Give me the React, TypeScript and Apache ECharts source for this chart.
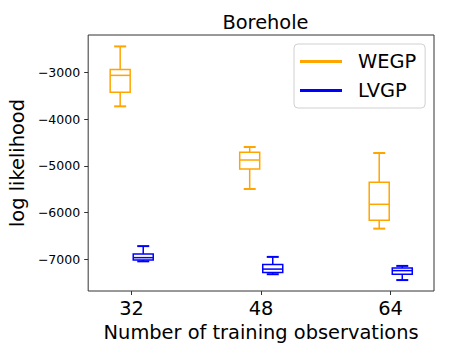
import React, { useEffect, useRef } from "react";
import * as echarts from "echarts";

const categories = ["32", "48", "64"];
const yTicks = [-7000, -6000, -5000, -4000, -3000];
// [low, q1, median, q3, high]
const wegpStats = [
  [-3727, -3428, -3064, -2936, -2444],
  [-5496, -5068, -4876, -4711, -4598],
  [-6345, -6166, -5824, -5353, -4726],
];
const lvgpStats = [
  [-7045, -7015, -6966, -6887, -6719],
  [-7321, -7282, -7211, -7115, -6950],
  [-7446, -7320, -7244, -7186, -7143],
];

const FONT = "'DejaVu Sans', sans-serif";
const ORANGE = "#FFA500";
const BLUE = "#0000FF";

function boxSeries(name: string, color: string, stats: number[][], offset: number) {
  return {
    name,
    type: "custom",
    itemStyle: { color },
    data: stats.map((s, i) => [i + 1 + offset, ...s]),
    renderItem: (params: any, api: any) => {
      const x = api.value(0);
      const low = api.coord([x, api.value(1)]);
      const q1 = api.coord([x, api.value(2)]);
      const med = api.coord([x, api.value(3)]);
      const q3 = api.coord([x, api.value(4)]);
      const high = api.coord([x, api.value(5)]);
      const cx = low[0];
      const hw = 10;
      const cw = 6;
      const st = { stroke: color, lineWidth: 1.5, fill: "none" };
      return {
        type: "group",
        children: [
          { type: "rect", shape: { x: cx - hw, y: q3[1], width: hw * 2, height: q1[1] - q3[1] }, style: st },
          { type: "line", shape: { x1: cx - hw, y1: med[1], x2: cx + hw, y2: med[1] }, style: st },
          { type: "line", shape: { x1: cx, y1: q3[1], x2: cx, y2: high[1] }, style: st },
          { type: "line", shape: { x1: cx, y1: q1[1], x2: cx, y2: low[1] }, style: st },
          { type: "line", shape: { x1: cx - cw, y1: high[1], x2: cx + cw, y2: high[1] }, style: { ...st, lineWidth: 2 } },
          { type: "line", shape: { x1: cx - cw, y1: low[1], x2: cx + cw, y2: low[1] }, style: { ...st, lineWidth: 2 } },
        ],
      };
    },
  };
}

export default function App() {
  const ref = useRef<HTMLDivElement>(null);
  useEffect(() => {
    const chart = echarts.init(ref.current!, null, { renderer: "svg" });
    chart.setOption({
      animation: false,
      backgroundColor: "#fff",
      textStyle: { fontFamily: FONT },
      title: {
        text: "Borehole",
        left: 260.5,
        top: 8,
        textAlign: "center",
        textStyle: { fontFamily: FONT, fontSize: 19.4, fontWeight: "normal", color: "#000" },
      },
      legend: {
        orient: "vertical",
        left: 294,
        top: 44,
        padding: [6, 9, 6, 6],
        itemGap: 6,
        itemWidth: 42,
        itemHeight: 3,
        icon: "rect",
        borderColor: "#d0d0d0",
        borderWidth: 1,
        borderRadius: 4,
        backgroundColor: "rgba(255,255,255,0.8)",
        textStyle: { fontFamily: FONT, fontSize: 19.4, color: "#000", lineHeight: 23, padding: [0, 0, 0, 11] },
        data: ["WEGP", "LVGP"],
      },
      grid: {
        left: 87,
        right: 15,
        top: 35,
        bottom: 68,
        show: true,
        borderColor: "#333",
        borderWidth: 1,
        backgroundColor: "transparent",
      },
      xAxis: {
        type: "value",
        min: 0.665,
        max: 3.335,
        name: "Number of training observations",
        nameLocation: "middle",
        nameGap: 31,
        nameTextStyle: { fontFamily: FONT, fontSize: 19.4, color: "#000" },
        axisLine: { show: false },
        splitLine: { show: false },
        axisTick: { show: true, length: 4, lineStyle: { color: "#333" }, customValues: [1, 2, 3] },
        axisLabel: {
          customValues: [1, 2, 3],
          formatter: (v: number) => categories[Math.round(v) - 1] ?? "",
          fontFamily: FONT,
          fontSize: 19.4,
          color: "#000",
          margin: 8,
        },
      },
      yAxis: {
        type: "value",
        min: -7680,
        max: -2200,
        name: "log likelihood",
        nameLocation: "middle",
        nameGap: 58,
        nameTextStyle: { fontFamily: FONT, fontSize: 19.4, color: "#000" },
        axisLine: { show: false },
        splitLine: { show: false },
        axisTick: { show: true, length: 4, lineStyle: { color: "#333" }, customValues: yTicks },
        axisLabel: {
          customValues: yTicks,
          formatter: (v: number) => String(v).replace("-", "\u2212"),
          fontFamily: FONT,
          fontSize: 12.5,
          color: "#000",
          margin: 8,
        },
      },
      series: [
        boxSeries("WEGP", ORANGE, wegpStats, -0.088),
        boxSeries("LVGP", BLUE, lvgpStats, 0.09),
      ],
    });
    return () => chart.dispose();
  }, []);
  return <div ref={ref} style={{ width: 449, height: 359, position: "absolute", left: 0, top: 0 }} />;
}
